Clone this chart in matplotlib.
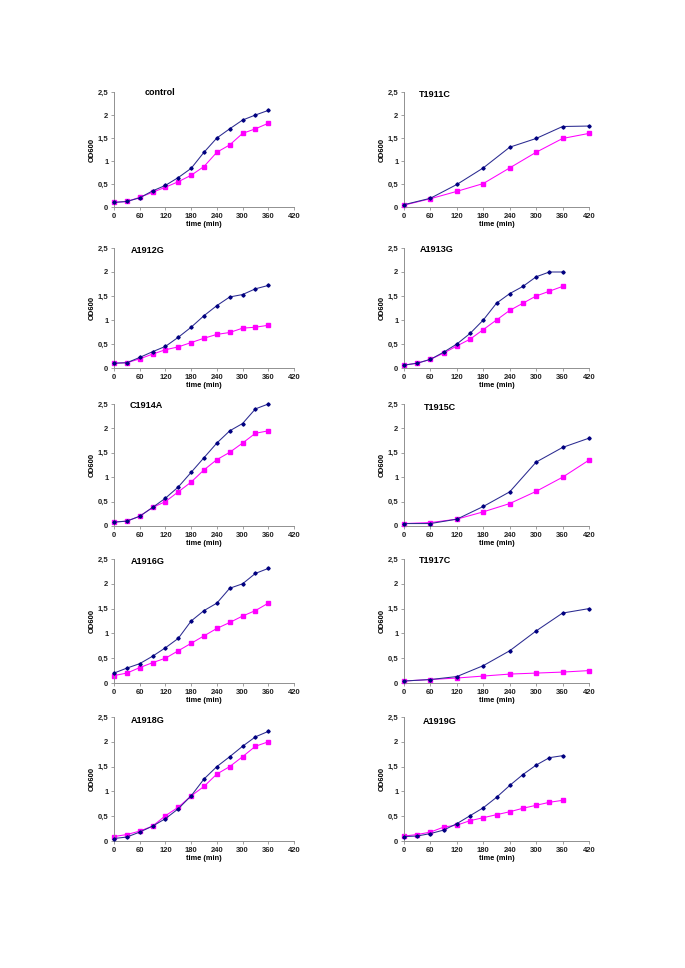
import matplotlib
matplotlib.use("Agg")
import matplotlib.pyplot as plt
from matplotlib.ticker import FuncFormatter

plt.rcParams['font.family'] = ['Liberation Sans', 'DejaVu Sans']

t30 = [0, 30, 60, 90, 120, 150, 180, 210, 240, 270, 300, 330, 360]
t60 = [0, 60, 120, 180, 240, 300, 360, 420]

names = ["control", "T1911C", "A1912G", "A1913G", "C1914A",
         "T1915C", "A1916G", "T1917C", "A1918G", "A1919G"]

times = [t30, t60, t30, t30, t30, t60, t30, t60, t30, t30]

blue = [
    [0.10, 0.12, 0.20, 0.35, 0.47, 0.64, 0.84, 1.19, 1.50, 1.70, 1.89, 2.00, 2.10],
    [0.05, 0.19, 0.49, 0.85, 1.30, 1.49, 1.75, 1.76],
    [0.10, 0.11, 0.22, 0.34, 0.45, 0.64, 0.85, 1.09, 1.30, 1.48, 1.53, 1.65, 1.72],
    [0.06, 0.10, 0.18, 0.33, 0.50, 0.72, 1.00, 1.35, 1.55, 1.70, 1.90, 2.00, 2.00],
    [0.08, 0.10, 0.20, 0.38, 0.57, 0.80, 1.10, 1.40, 1.70, 1.95, 2.10, 2.40, 2.50],
    [0.05, 0.05, 0.14, 0.40, 0.70, 1.31, 1.61, 1.80],
    [0.20, 0.30, 0.39, 0.54, 0.71, 0.90, 1.25, 1.46, 1.61, 1.91, 2.00, 2.21, 2.31],
    [0.04, 0.07, 0.13, 0.35, 0.65, 1.05, 1.41, 1.50],
    [0.05, 0.08, 0.18, 0.30, 0.45, 0.65, 0.91, 1.25, 1.50, 1.70, 1.91, 2.10, 2.21],
    [0.09, 0.10, 0.15, 0.22, 0.35, 0.51, 0.67, 0.88, 1.12, 1.34, 1.53, 1.68, 1.72],
]

magenta = [
    [0.10, 0.12, 0.21, 0.32, 0.43, 0.55, 0.69, 0.88, 1.19, 1.35, 1.60, 1.70, 1.82],
    [0.04, 0.18, 0.34, 0.51, 0.85, 1.19, 1.49, 1.60],
    [0.10, 0.11, 0.19, 0.29, 0.38, 0.44, 0.53, 0.62, 0.70, 0.74, 0.83, 0.85, 0.89],
    [0.06, 0.10, 0.18, 0.31, 0.46, 0.60, 0.80, 1.00, 1.20, 1.35, 1.50, 1.60, 1.70],
    [0.08, 0.10, 0.20, 0.38, 0.50, 0.70, 0.90, 1.15, 1.36, 1.51, 1.70, 1.90, 1.95],
    [0.05, 0.07, 0.14, 0.29, 0.46, 0.71, 1.00, 1.35],
    [0.15, 0.20, 0.31, 0.41, 0.50, 0.65, 0.80, 0.95, 1.10, 1.22, 1.35, 1.46, 1.61],
    [0.04, 0.07, 0.10, 0.14, 0.18, 0.20, 0.22, 0.25],
    [0.09, 0.13, 0.20, 0.30, 0.51, 0.68, 0.91, 1.10, 1.35, 1.50, 1.70, 1.91, 2.00],
    [0.10, 0.13, 0.18, 0.28, 0.32, 0.41, 0.47, 0.53, 0.59, 0.66, 0.72, 0.78, 0.82],
]

# title positions in data coords
title_pos = [(72, 2.48), (34, 2.45), (40, 2.45), (36, 2.46), (37, 2.46),
             (45, 2.43), (40, 2.45), (34, 2.47), (40, 2.42), (43, 2.40)]

x_ticks = [0, 60, 120, 180, 240, 300, 360, 420]
y_ticks = [0, 0.5, 1, 1.5, 2, 2.5]

W, H = 685, 968
fig = plt.figure(figsize=(W / 100, H / 100), dpi=100)

col_left = [114, 404]
col_width = [180, 185]
rows = [(92, 207), (248, 368), (404, 526), (559, 683), (717, 841)]

fmt = FuncFormatter(lambda v, p: ("%g" % v).replace(".", ","))

for i, name in enumerate(names):
    r, c = divmod(i, 2)
    top, bot = rows[r]
    l = col_left[c]
    w = col_width[c]
    ax = fig.add_axes([l / W, 1 - bot / H, w / W, (bot - top) / H])
    ax.plot(times[i], blue[i], color='#2a2a90', lw=0.75, marker='D', ms=1.7,
            mfc='#000080', mec='#000080', clip_on=False, zorder=3)
    ax.plot(times[i], magenta[i], color='#ff00ff', lw=0.75, marker='s', ms=2.4,
            mfc='#ff00ff', mec='#ff00ff', clip_on=False, zorder=2)
    ax.set_xlim(0, 420)
    ax.set_ylim(0, 2.5)
    ax.set_xticks(x_ticks)
    ax.set_yticks(y_ticks)
    ax.yaxis.set_major_formatter(fmt)
    for s in ['top', 'right']:
        ax.spines[s].set_visible(False)
    for s in ['left', 'bottom']:
        ax.spines[s].set_color('#909090')
        ax.spines[s].set_linewidth(0.7)
    ax.tick_params(axis='both', length=2, width=0.6, color='#909090',
                   labelsize=5.5, pad=2)
    for lab in ax.get_xticklabels() + ax.get_yticklabels():
        lab.set_fontweight('bold')
        lab.set_color('#222222')
    ax.set_xlabel("time (min)", fontsize=5.3, fontweight='bold', labelpad=1.0)
    ax.set_ylabel("OD600", fontsize=5.5, fontweight='bold', labelpad=1.5)
    tx, ty = title_pos[i]
    ax.text(tx, ty, name, fontsize=6.5, fontweight='bold', ha='left',
            va='center')

fig.savefig("out.png", dpi=100)
